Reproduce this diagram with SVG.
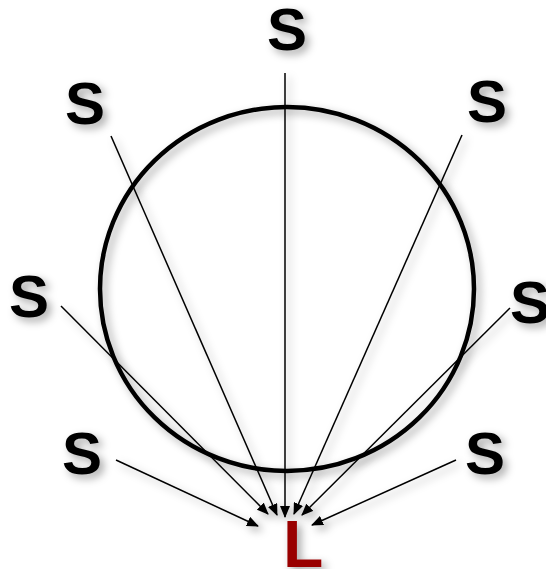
<svg xmlns="http://www.w3.org/2000/svg" width="546" height="569" viewBox="0 0 546 569">
<defs>
<filter id="sh" x="-30%" y="-30%" width="160%" height="160%">
<feDropShadow dx="4" dy="4" stdDeviation="4" flood-color="#000" flood-opacity="0.35"/>
</filter>
<marker id="ah" markerWidth="12" markerHeight="10" refX="11" refY="5" orient="auto" markerUnits="userSpaceOnUse">
<path d="M0,0 L12,5 L0,10 Z" fill="#000"/>
</marker>
<style>
.s{font-family:"Liberation Sans",Arial,sans-serif;font-weight:bold;font-size:60px;fill:#000;text-anchor:middle}
.l{font-family:"Liberation Sans",Arial,sans-serif;font-weight:bold;font-size:66px;fill:#990000}
.c{stroke:#000;stroke-width:1.5;fill:none;marker-end:url(#ah)}
</style>
</defs>
<rect width="546" height="569" fill="#fff"/>
<g id="circle" filter="url(#sh)">
<ellipse cx="287" cy="289" rx="187" ry="182" fill="none" stroke="#000" stroke-width="4.5"/>
</g>
<g id="connectors" filter="url(#sh)">
<line class="c" x1="285" y1="73" x2="285" y2="517"/>
<line class="c" x1="111" y1="136" x2="277" y2="515"/>
<line class="c" x1="462" y1="135" x2="294" y2="514"/>
<line class="c" x1="61" y1="306" x2="268" y2="514"/>
<line class="c" x1="510" y1="308" x2="302" y2="515"/>
<line class="c" x1="116" y1="460" x2="258" y2="526"/>
<line class="c" x1="456" y1="460" x2="312" y2="525"/>
</g>
<g id="s-top" filter="url(#sh)"><text class="s" x="287" y="50">S</text></g>
<g id="s-upper-left" filter="url(#sh)"><text class="s" x="85" y="124">S</text></g>
<g id="s-upper-right" filter="url(#sh)"><text class="s" x="487" y="122">S</text></g>
<g id="s-left" filter="url(#sh)"><text class="s" x="29" y="317">S</text></g>
<g id="s-right" filter="url(#sh)"><text class="s" x="530" y="323">S</text></g>
<g id="s-lower-left" filter="url(#sh)"><text class="s" x="82" y="474">S</text></g>
<g id="s-lower-right" filter="url(#sh)"><text class="s" x="485" y="474">S</text></g>
<g id="l-node" filter="url(#sh)"><text class="l" x="283" y="567">L</text></g>
</svg>
